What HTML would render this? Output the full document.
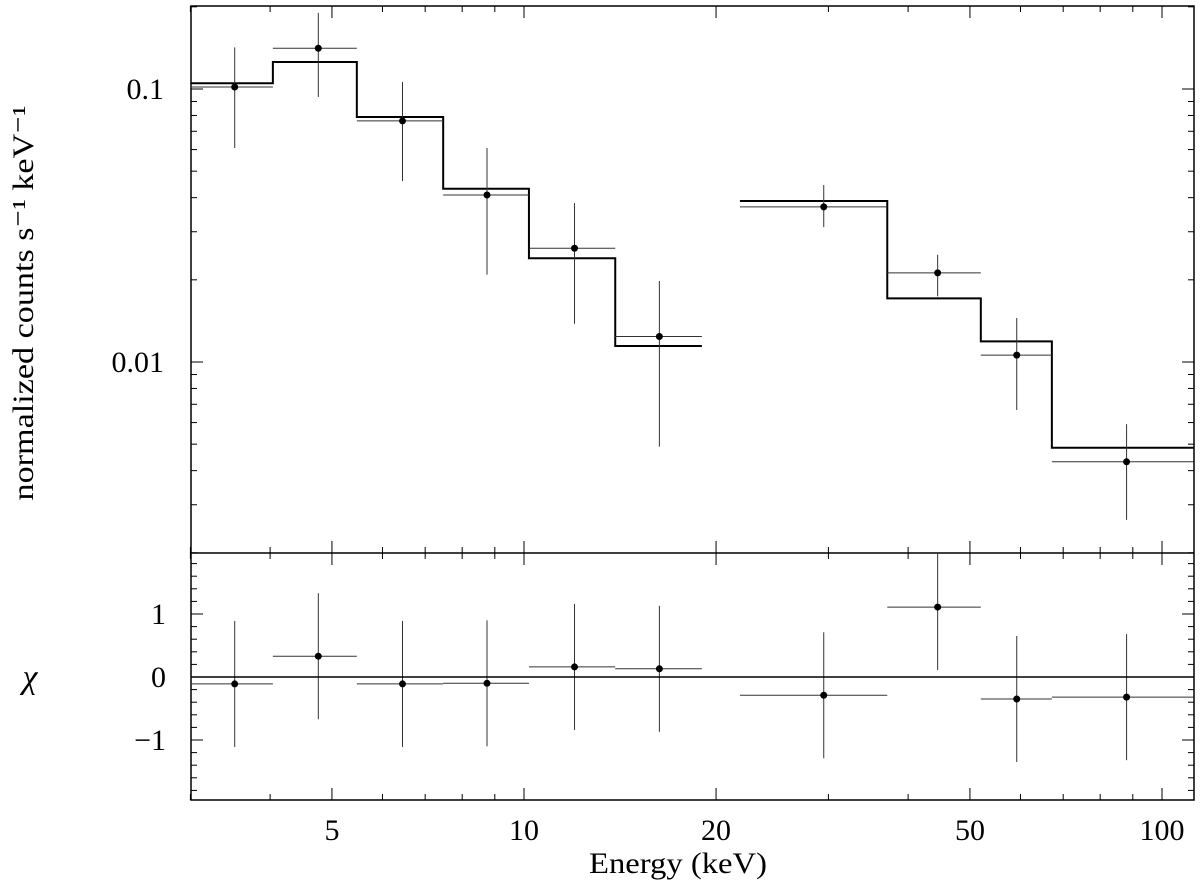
<!DOCTYPE html>
<html><head><meta charset="utf-8"><style>
html,body{margin:0;padding:0;background:#fff;}
svg text{font-family:"Liberation Serif",serif;fill:#000;}
</style></head><body>
<svg id="chart" width="1200" height="885" xmlns="http://www.w3.org/2000/svg">
<g id="g"></g>
</svg>
<script>
const dataX = [3.52,4.76,6.45,8.75,12.0,16.3,29.5,44.5,59.2,88.0];
const binLo = [3.0,4.04,5.47,7.47,10.18,13.9,21.8,37.1,52.0,67.2];
const binHi = [4.04,5.47,7.47,10.18,13.9,19.0,37.1,52.0,67.2,112];
const dataY = [0.1017,0.141,0.0764,0.0409,0.0261,0.0124,0.0370,0.0212,0.0106,0.00431];
const errHi = [0.142,0.19,0.106,0.0608,0.0382,0.0198,0.0445,0.0247,0.0145,0.00592];
const errLo = [0.0608,0.0935,0.046,0.0209,0.0138,0.0049,0.0312,0.0174,0.00667,0.00264];
const modelY = [0.105,0.1256,0.079,0.0431,0.024,0.01144,0.0389,0.0171,0.0119,0.00485];
const chi = [-0.11,0.33,-0.11,-0.1,0.16,0.13,-0.29,1.11,-0.35,-0.32];
const chiErr = [1,1,1,1,1,1,1,1,1,1];
const xTicks = [5,10,20,50,100];
const yTicks = [0.1,0.01];
const yTickLabels = ["0.1","0.01"];
const chiTicks = [1,0,-1];
const chiTickLabels = ["1","0","−1"];

const L=191,R=1194,T=6,M=553,B=800;
const X=e=>524+638*Math.log10(e/10);
const Y=v=>362-273*Math.log10(v/0.01);
const C=v=>677-63*v;
const g=document.getElementById('g');
const NS="http://www.w3.org/2000/svg";
function mk(t,a,name){const e=document.createElementNS(NS,t);for(const k in a)e.setAttribute(k,a[k]);


g.appendChild(e);return e;}
function ln(x1,y1,x2,y2,w,name,c){return mk('line',{x1,y1,x2,y2,stroke:c||'#000','stroke-width':w||1},name);}
function tx(x,y,s,size,anchor,name,extra){const e=mk('text',Object.assign({x,y,'font-size':size,'text-anchor':anchor||'middle'},extra||{}),name);e.textContent=s;return e;}

mk('rect',{x:L,y:T,width:R-L,height:B-T,fill:'none',stroke:'#000','stroke-width':1.5},'plot-frame');
ln(L,M,R,M,1.5,'panel-divider');
for(let d=1;d<=100;d*=10)for(let k=1;k<10;k++){const e=d*k;if(e<3||e>112)continue;const x=X(e);const maj=(k==1||k==2||k==5);const len=maj?12:6;
 ln(x,T,x,T+len,1,'x-tick-top');ln(x,M-len,x,M+len,1,'x-tick-mid');ln(x,B-len,x,B,1,'x-tick-bottom');}
xTicks.forEach(t=>tx(X(t),840,String(t),30,'middle','x-tick-label'));
for(let d=0.001;d<=0.1;d*=10)for(let k=1;k<10;k++){const v=d*k;if(v<0.002||v>0.2)continue;const y=Y(v);const len=k==1?12:6;
 ln(L,y,L+len,y,1,'y-tick-left');ln(R-len,y,R,y,1,'y-tick-right');}
yTicks.forEach((t,i)=>tx(164,Y(t)+10,yTickLabels[i],30,'end','y-tick-label'));
for(let i=-9;i<=10;i++){const v=i*0.2;const y=C(v);if(y<M||y>B)continue;const maj=i%5==0;const len=maj?12:6;
 ln(L,y,L+len,y,1,'chi-tick-left');ln(R-len,y,R,y,1,'chi-tick-right');}
chiTicks.forEach((t,i)=>tx(166,C(t)+10,chiTickLabels[i],30,'end','chi-tick-label'));
tx(33,303,'normalized counts s⁻¹ keV⁻¹',30,'middle','y-axis-title',{transform:'rotate(-90 33 303)',textLength:395,lengthAdjust:'spacingAndGlyphs'});
tx(30,688,'χ',34,'middle','chi-axis-title',{'font-style':'italic'});
tx(678,873,'Energy (keV)',30,'middle','x-axis-title',{textLength:178,lengthAdjust:'spacingAndGlyphs'});
function steps(a,b){let d='';for(let i=a;i<b;i++){const x1=X(binLo[i]),x2=X(binHi[i]),y=Y(modelY[i]);d+=(i==a?'M':'L')+x1+','+y+'L'+x2+','+y;}
 mk('path',{d,fill:'none',stroke:'#000','stroke-width':2},'model-step-line');}
steps(0,6);steps(6,10);
dataX.forEach((e,i)=>{const x=X(e),y=Y(dataY[i]);
 ln(X(binLo[i]),y,X(binHi[i]),y,1,'data-xerr','#333');ln(x,Y(errHi[i]),x,Y(errLo[i]),1,'data-yerr','#333');
 mk('circle',{cx:x,cy:y,r:3.5,fill:'#000'},'data-point');
 const cy=C(chi[i]);
 ln(X(binLo[i]),cy,X(binHi[i]),cy,1,'chi-xerr','#333');ln(x,Math.max(M,C(chi[i]+chiErr[i])),x,C(chi[i]-chiErr[i]),1,'chi-yerr','#333');
 mk('circle',{cx:x,cy:cy,r:3.5,fill:'#000'},'chi-point');});
ln(L,C(0),R,C(0),1.5,'chi-zero-line');
</script>
</body></html>
